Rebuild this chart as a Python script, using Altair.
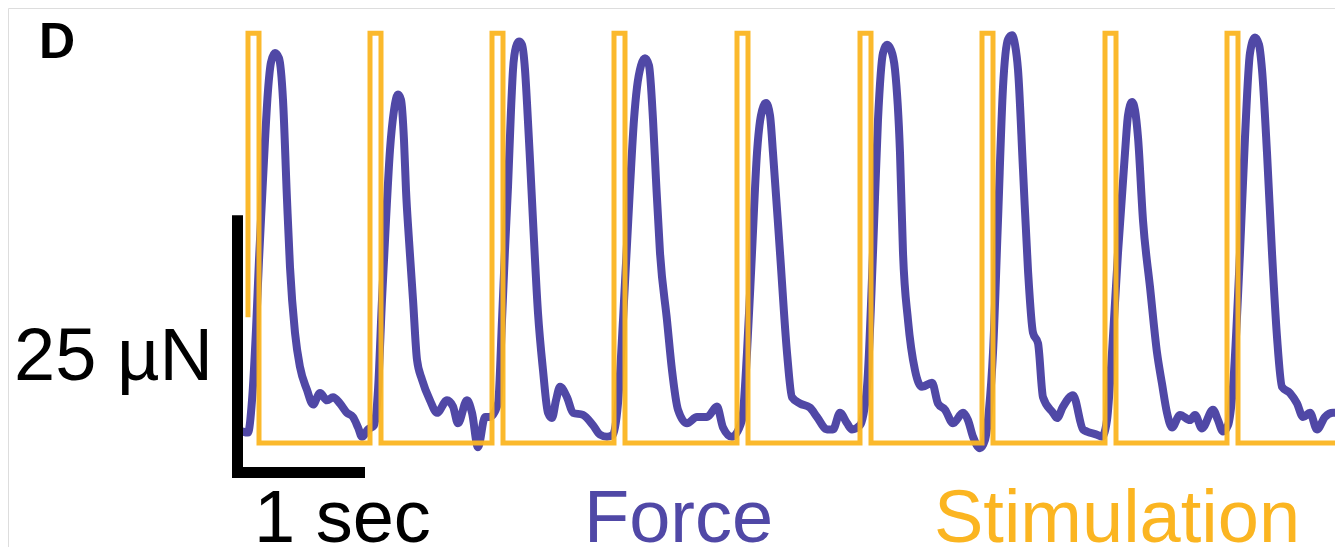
import altair as alt
import pandas as pd

# ---- data (time in ms, force in µN) ----
force_t_ms = [
    -40, 0, 32, 64, 88, 112, 136, 160, 184, 216, 248, 280, 312, 336, 376, 416, 472, 520, 576, 632, 680, 736, 792, 840, 880, 912, 960, 1008,
    1040, 1072, 1104, 1136, 1168, 1200, 1224, 1248, 1264, 1288, 1320, 1352, 1392, 1456, 1512, 1592, 1640, 1680, 1752, 1792, 1840, 1896, 1936,
    2000, 2032, 2056, 2080, 2104, 2120, 2144, 2168, 2192, 2216, 2232, 2256, 2280, 2320, 2360, 2400, 2432, 2464, 2496, 2552, 2600, 2680, 2760, 2816, 2872, 2920,
    2960, 3000, 3056, 3088, 3112, 3144, 3176, 3208, 3240, 3264, 3296, 3352, 3392, 3440, 3512, 3592, 3672, 3752, 3800, 3872,
    3952, 3992, 4032, 4072, 4104, 4144, 4176, 4200, 4256, 4312, 4352, 4416, 4496, 4552, 4632, 4680, 4736, 4792, 4832, 4896,
    4952, 5000, 5040, 5080, 5112, 5144, 5176, 5216, 5240, 5280, 5336, 5392, 5472, 5520, 5576, 5640, 5720, 5760, 5800, 5856, 5896,
    5928, 5960, 6000, 6040, 6080, 6112, 6136, 6160, 6200, 6240, 6280, 6320, 6360, 6440, 6472, 6520, 6600, 6680, 6712, 6792, 6832,
    6872, 6912, 6960, 7016, 7040, 7072, 7096, 7120, 7160, 7216, 7272, 7312, 7352, 7392, 7456, 7536, 7576, 7632, 7720, 7760, 7800,
    7840, 7880, 7936, 7976, 8016, 8056, 8088, 8112, 8152, 8192, 8232, 8272, 8336, 8392, 8440, 8496, 8552, 8616, 8680, 8712,
]
force_uN = [
    1.1, 1.0, 4.1, 10.9, 17.6, 23.4, 29.1, 33.9, 36.6, 37.5, 37.0, 33.0, 23.4, 16.9, 10.6, 7.3, 5.1, 3.7, 4.8, 4.1, 4.4, 3.8, 2.9, 2.5, 1.5, 0.6, 1.3, 1.7,
    5.1, 13.8, 21.4, 28.2, 32.0, 33.5, 33.0, 29.1, 24.3, 19.5, 13.8, 8.0, 6.1, 4.1, 2.9, 4.1, 3.5, 1.9, 4.1, 2.9, -0.4, 2.5, 2.5,
    3.8, 11.8, 18.6, 24.6, 32.0, 35.9, 38.1, 38.6, 38.3, 35.9, 32.7, 27.2, 21.4, 12.5, 7.0, 2.9, 2.4, 4.1, 5.4, 4.4, 2.9, 2.7, 1.7, 0.8, 0.6, 0.8,
    3.8, 11.8, 24.6, 31.1, 34.2, 36.3, 37.0, 36.3, 31.1, 25.3, 18.3, 11.8, 7.0, 3.2, 1.9, 2.5, 2.5, 3.5, 1.5, 0.6,
    2.2, 8.7, 18.3, 27.9, 31.5, 32.7, 31.5, 27.9, 18.3, 8.7, 4.4, 3.8, 3.4, 2.5, 1.3, 1.3, 2.9, 1.9, 1.3, 1.7,
    5.4, 18.3, 31.1, 37.5, 38.3, 37.8, 35.9, 27.9, 18.3, 11.8, 7.0, 5.4, 5.8, 3.8, 3.2, 1.9, 2.9, 2.2, 0.6, -0.5, 0.3,
    3.2, 8.7, 21.4, 34.2, 38.8, 39.2, 38.3, 35.9, 26.3, 16.6, 10.6, 9.6, 4.4, 2.9, 2.4, 3.5, 4.6, 1.3, 1.1, 0.8, 0.6,
    2.2, 8.7, 18.3, 27.9, 31.5, 32.8, 32.0, 29.4, 21.4, 15.0, 8.7, 5.7, 2.9, 1.5, 2.7, 2.2, 2.7, 1.4, 3.2, 2.2, 1.1,
    1.7, 5.4, 18.3, 29.4, 37.5, 39.0, 38.3, 35.9, 27.9, 18.3, 10.2, 5.4, 4.8, 3.8, 2.5, 2.9, 1.3, 2.5, 2.9, 2.9,
]

stim_onsets_ms = [0, 976, 1952, 2928, 3912, 4896, 5872, 6856, 7832]
stim_width_ms = 88
stim_amp_uN = 39.4
stim_first_level_uN = 12.1
stim_end_ms = 8696

scalebar_time = [-128, 936]      # horizontal bar ends (ms)
scalebar_force = [-3.37, 21.9]   # vertical bar ends (µN)

PURPLE = "#5048a6"
ORANGE = "#fbb521"

# ---- tables ----
force_df = pd.DataFrame({"t": force_t_ms, "f": force_uN, "i": range(len(force_t_ms))})

stim_t, stim_f = [0], [stim_first_level_uN]
for k, on in enumerate(stim_onsets_ms):
    if k > 0:
        stim_t.append(on)
        stim_f.append(0)
    stim_t += [on, on + stim_width_ms, on + stim_width_ms]
    stim_f += [stim_amp_uN, stim_amp_uN, 0]
stim_t.append(stim_end_ms)
stim_f.append(0)
stim_df = pd.DataFrame({"t": stim_t, "f": stim_f, "i": range(len(stim_t))})

bars_df = pd.DataFrame({
    "t": [scalebar_time[0], -84],
    "t2": [scalebar_time[1], -84],
    "f": [-2.84, scalebar_force[0]],
    "f2": [-2.84, scalebar_force[1]],
})

xs = alt.Scale(domain=[-1920, 8696], nice=False, zero=False)
ys = alt.Scale(domain=[-10.0, 41.827], nice=False, zero=False)
X = lambda f: alt.X(f, type="quantitative", scale=xs, axis=None)
Y = lambda f: alt.Y(f, type="quantitative", scale=ys, axis=None)

force = alt.Chart(force_df).mark_line(
    color=PURPLE, strokeWidth=8, strokeCap="round", strokeJoin="round", interpolate="monotone"
).encode(x=X("t"), y=Y("f"), order="i:Q")

stim = alt.Chart(stim_df).mark_line(
    color=ORANGE, strokeWidth=5, strokeJoin="miter", opacity=0.95
).encode(x=X("t"), y=Y("f"), order="i:Q")

bars = alt.Chart(bars_df).mark_rule(color="black", strokeWidth=11, strokeCap="butt").encode(
    x=X("t"), x2="t2", y=Y("f"), y2="f2"
)

FONT = "Liberation Sans"

def label(txt, t, f, color, size, align="left", weight="normal"):
    return alt.Chart(pd.DataFrame({"a": [0]})).mark_text(
        text=txt, color=color, fontSize=size, font=FONT, align=align,
        baseline="alphabetic", fontWeight=weight
    ).encode(x=alt.datum(t, scale=xs, axis=None), y=alt.datum(f, scale=ys, axis=None))

texts = [
    label("D", -1672, 37.0, "black", 50, weight="bold"),
    label("25 µN", -280, 6.06, "black", 74, align="right"),
    label("1 sec", 48, -9.5, "black", 74),
    label("Force", 2688, -9.5, PURPLE, 74),
    label("Stimulation", 5488, -9.5, ORANGE, 74),
]

chart = alt.layer(force, stim, bars, *texts).properties(
    width=1327, height=539, padding=0, autosize=alt.AutoSizeParams(type="none")
).configure_view(stroke=None).configure(background="white")

chart.save("out.html", embed_options={"renderer": "svg", "actions": False})
